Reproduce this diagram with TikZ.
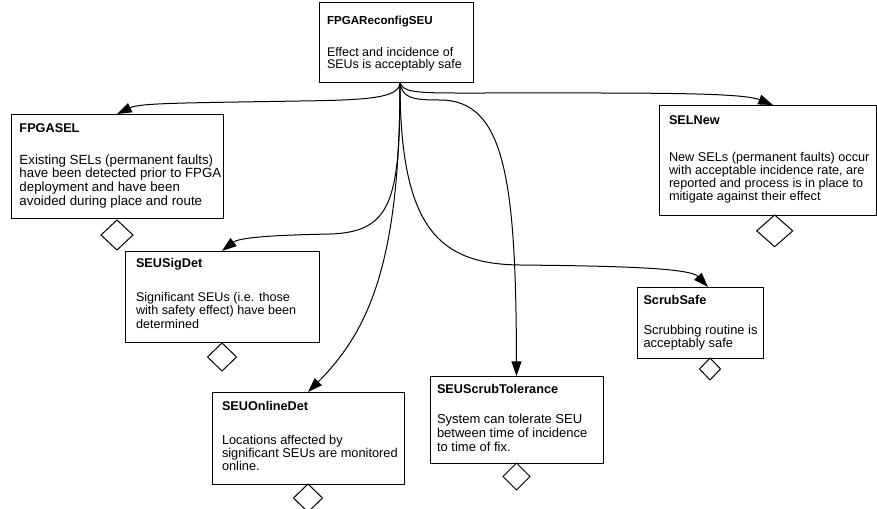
\documentclass[tikz,border=0pt]{standalone}
\usepackage{fontspec}
\setmainfont{Liberation Sans}
\usetikzlibrary{arrows.meta,shapes.geometric,calc}
\newdimen\gpx \gpx=0.75pt
% #1 width, #2 height, #3 left inset, #4 first baseline below top, #5 content (all px)
\newcommand\gsnbox[5]{\begin{minipage}[t][#2\gpx][t]{#1\gpx}\setlength\parindent{0pt}\setlength\parskip{0pt}\setlength\leftskip{#3\gpx}\rule{0pt}{#4\gpx}#5\end{minipage}}
% #1 size, #2 title, #3 extra gap (px)
\newcommand\gtitle[3]{\fontsize{#1}{#1}\selectfont\textbf{#2}\par\vspace{#3\gpx}}
% #1 size, #2 baselineskip
\newcommand\gbody[2]{\fontsize{#1}{#2}\selectfont}
\tikzset{
  gbox/.style={draw=black, line width=0.75pt, inner sep=0pt, outer sep=0pt, fill=white, anchor=north west},
  gdiam/.style={diamond, draw=black, line width=0.75pt, inner sep=0pt, outer sep=0pt, fill=white, anchor=north},
  garrow/.style={line width=0.75pt, -{Triangle[length=11pt,width=7.5pt]}},
}
\begin{document}
\begin{tikzpicture}[x=0.75pt, y=-0.75pt]
\clip (0,0) rectangle (877,508);
\fill[white] (0,0) rectangle (877,508);

\node[gbox] (top) at (319,2) {\gsnbox{154}{80}{8}{22}{\gtitle{8.7pt}{FPGAReconfigSEU}{19.3}\gbody{9.375pt}{9.525pt}Effect and incidence of\\SEUs is acceptably safe}};

\node[gbox] (fpgasel) at (11,114) {\gsnbox{212}{104}{8.5}{18.3}{\gtitle{9.525pt}{FPGASEL}{17.9}\gbody{9.975pt}{10.35pt}Existing SELs (permanent faults)\\have been detected prior to FPGA\\deployment and have been\\avoided during place and route}};

\node[gbox] (selnew) at (659,105) {\gsnbox{217.5}{110}{10}{19.3}{\gtitle{9.525pt}{SELNew}{24.4}\gbody{9.525pt}{9.75pt}New SELs (permanent faults) occur\\with acceptable incidence rate, are\\reported and process is in place to\\mitigate against their effect}};

\node[gbox] (sigdet) at (125,251) {\gsnbox{194}{91}{11}{16.3}{\gtitle{9.525pt}{SEUSigDet}{20.2}\gbody{9.45pt}{10.125pt}Significant SEUs (i.e. those\\with safety effect) have been\\determined}};

\node[gbox] (scrub) at (637,287) {\gsnbox{126}{71}{6.5}{17}{\gtitle{9.525pt}{ScrubSafe}{16.7}\gbody{9.675pt}{9.975pt}Scrubbing routine is\\acceptably safe}};

\node[gbox] (online) at (212,392) {\gsnbox{192}{92}{10}{18.7}{\gtitle{9.525pt}{SEUOnlineDet}{20.3}\gbody{9.6pt}{9.75pt}Locations affected by\\significant SEUs are monitored\\online.}};

\node[gbox] (tol) at (430,376) {\gsnbox{173}{87}{7}{17.3}{\gtitle{9.525pt}{SEUScrubTolerance}{15.8}\gbody{9.75pt}{10.65pt}System can tolerate SEU\\between time of incidence\\to time of fix.}};

% undeveloped diamonds
\node[gdiam, minimum width=32\gpx, minimum height=30\gpx] (d1) at ($(fpgasel.south)+(0,2)$) {};
\node[gdiam, minimum width=36\gpx, minimum height=31.7\gpx] (d2) at ($(selnew.south west)+(115.7,0)$) {};
\node[gdiam, minimum width=29\gpx, minimum height=28\gpx] (d3) at ($(sigdet.south)+(0,1)$) {};
\node[gdiam, minimum width=21\gpx, minimum height=22\gpx] (d4) at ($(scrub.south west)+(73,0)$) {};
\node[gdiam, minimum width=29\gpx, minimum height=28\gpx] (d5) at (online.south) {};
\node[gdiam, minimum width=27\gpx, minimum height=27\gpx] (d6) at (tol.south) {};

% connectors
\coordinate (src) at ($(top.south west)+(81,0)$);
\draw[garrow] (src) .. controls (400,98) and (370,100) .. (300,101) .. controls (180,103) and (140,103) .. (fpgasel.north);
\draw[garrow] (src) .. controls (402,92) and (415,93) .. (460,93) .. controls (640,93) and (740,92) .. ($(selnew.north west)+(114,0)$);
\draw[garrow] (src) .. controls (400,200) and (392,232) .. (330,234) .. controls (280,235) and (240,237) .. (sigdet.north);
\draw[garrow] (src) .. controls (400,230) and (440,264) .. (520,265) .. controls (620,266) and (690,268) .. ($(scrub.north west)+(71,0)$);
\draw[garrow] (src) .. controls (400,260) and (370,330) .. (online.north);
\draw[garrow] (src) .. controls (402,98) and (412,100) .. (440,100) .. controls (505,100) and (516,180) .. (tol.north);
\end{tikzpicture}
\end{document}
